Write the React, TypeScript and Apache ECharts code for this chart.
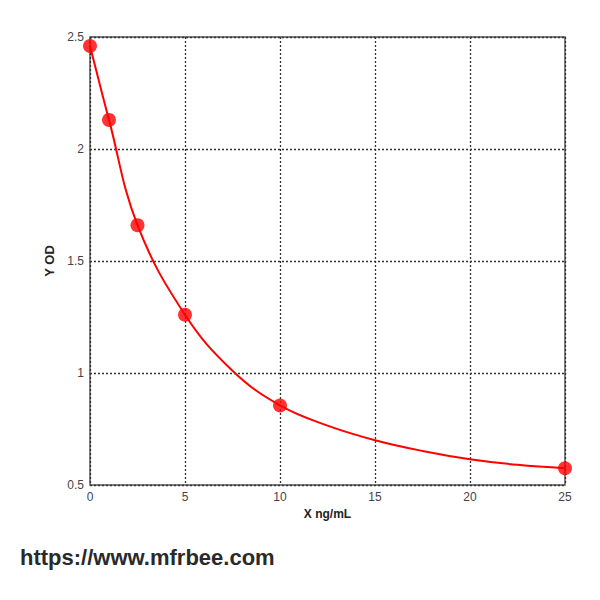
import React, { useEffect, useRef } from "react";
import * as echarts from "echarts";

const xTicks = [0, 5, 10, 15, 20, 25];
const pointX = [0, 1, 2.5, 5, 10, 25];
const pointY = [2.46, 2.13, 1.66, 1.26, 0.855, 0.575];
const curveX = [0, 1, 2.5, 5, 7.5, 10, 12.5, 15, 17.5, 20, 22.5, 25];
const curveY = [2.46, 2.13, 1.66, 1.26, 1.01, 0.855, 0.765, 0.7, 0.652, 0.615, 0.59, 0.575];
const xLabel = "X ng/mL";
const yLabel = "Y OD";
const watermark = "https://www.mfrbee.com";

export default function App() {
  const ref = useRef<HTMLDivElement>(null);
  useEffect(() => {
    document.body.style.margin = "0";
    const chart = echarts.init(ref.current!, null, { renderer: "svg" });
    chart.setOption({
      animation: false,
      backgroundColor: "#ffffff",
      grid: {
        left: 90,
        right: 35,
        top: 37,
        bottom: 115,
        show: true,
        borderColor: "#555",
        borderWidth: 1.5,
      },
      xAxis: {
        type: "value",
        min: 0,
        max: 25,
        interval: 5,
        name: xLabel,
        nameLocation: "middle",
        nameGap: 22,
        nameTextStyle: { fontFamily: "Liberation Sans", fontWeight: "bold", fontSize: 12, color: "#222" },
        axisLine: { show: false },
        axisTick: { show: false },
        axisLabel: {
          fontFamily: "Liberation Sans",
          fontSize: 12,
          color: "#444",
          margin: 6,
          formatter: (v: number) => (xTicks.includes(v) ? String(v) : ""),
        },
        splitLine: { show: true, lineStyle: { type: [2, 2], color: "#333", width: 1.3 } },
      },
      yAxis: {
        type: "value",
        min: 0.5,
        max: 2.5,
        interval: 0.5,
        name: yLabel,
        nameLocation: "middle",
        nameGap: 19,
        nameRotate: 90,
        nameTextStyle: { fontFamily: "Liberation Sans", fontWeight: "bold", fontSize: 13, color: "#222" },
        axisLine: { show: false },
        axisTick: { show: false },
        axisLabel: { fontFamily: "Liberation Sans", fontSize: 12, color: "#444", margin: 6 },
        splitLine: { show: true, lineStyle: { type: [2, 2], color: "#333", width: 1.3 } },
      },
      series: [
        {
          type: "line",
          data: curveX.map((x, i) => [x, curveY[i]]),
          smooth: 0.4,
          showSymbol: false,
          lineStyle: { color: "#ff0000", width: 2 },
          z: 2,
        },
        {
          type: "scatter",
          data: pointX.map((x, i) => [x, pointY[i]]),
          symbol: "circle",
          symbolSize: 14,
          itemStyle: { color: "#ff0000" },
          z: 3,
        },
      ],
      graphic: [
        {
          type: "text",
          left: 20,
          top: 546,
          style: {
            text: watermark,
            fontFamily: "Liberation Sans",
            fontWeight: "bold",
            fontSize: 22,
            fill: "#2a2a2a",
          },
        },
      ],
    });
    return () => chart.dispose();
  }, []);
  return <div ref={ref} style={{ width: 600, height: 600 }} />;
}
